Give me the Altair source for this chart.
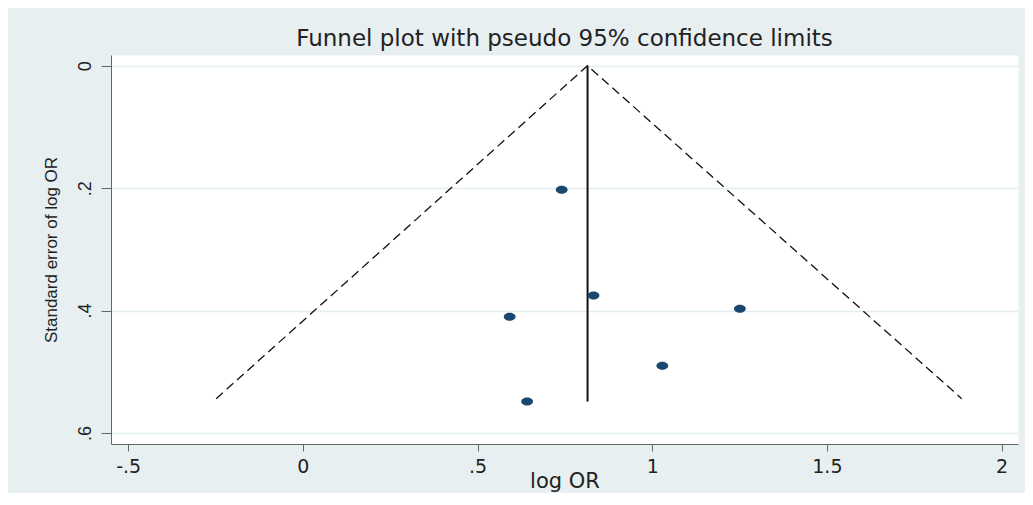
import altair as alt
import pandas as pd

# Study estimates (log OR) and their standard errors
log_or = [0.741, 0.832, 0.592, 1.251, 1.029, 0.642]
se_log_or = [0.2025, 0.3755, 0.410, 0.397, 0.490, 0.5486]

# Pooled estimate line (vertical)
pooled_x = [0.815]
pooled_y_top = [0.0]
pooled_y_bottom = [0.5486]

# Pseudo 95% confidence limits (dashed funnel)
funnel_x = [-0.248, 0.815, 1.886]
funnel_y = [0.544, 0.0, 0.544]
funnel_order = [0, 1, 2]

x_ticks = [-0.5, 0, 0.5, 1, 1.5, 2]
x_tick_labels = ["-.5", "0", ".5", "1", "1.5", "2"]
y_ticks = [0, 0.2, 0.4, 0.6]
y_tick_labels = ["0", ".2", ".4", ".6"]

BG = "#e8eff1"
NAVY = "#1a476f"
FONT_H = "DejaVu Sans"
FONT_V = "Liberation Sans"


def label_expr(values, labels):
    parts = [f"abs(datum.value - ({v})) < 1e-6 ? '{l}'" for v, l in zip(values, labels)]
    return " : ".join(parts) + " : ''"


points_df = pd.DataFrame({"x": log_or, "y": se_log_or})
pooled_df = pd.DataFrame({"x": pooled_x, "y": pooled_y_top, "y2": pooled_y_bottom})
funnel_df = pd.DataFrame({"x": funnel_x, "y": funnel_y, "o": funnel_order})

x_scale = alt.Scale(domain=[-0.549, 2.047], nice=False, zero=False)
y_scale = alt.Scale(domain=[-0.0175, 0.618], nice=False, zero=False, reverse=True)

x_axis = alt.Axis(
    values=x_ticks,
    labelExpr=label_expr(x_ticks, x_tick_labels),
    grid=False,
    tickSize=7,
    tickColor="#666666",
    domainColor="#666666",
    labelFont=FONT_H,
    labelFontSize=19,
    labelColor="#222222",
    labelPadding=6,
    labelBaseline="top",
    title="log OR",
    titleFont=FONT_H,
    titleFontSize=21,
    titleFontWeight="normal",
    titleColor="#222222",
    titleBaseline="alphabetic",
    titleY=43,
)

y_axis = alt.Axis(
    values=y_ticks,
    labelExpr=label_expr(y_ticks, y_tick_labels),
    grid=True,
    gridColor="#e4edef",
    gridWidth=1.5,
    tickSize=10,
    tickColor="#666666",
    domainColor="#666666",
    labelFont=FONT_V,
    labelFontSize=18,
    labelColor="#222222",
    labelAngle=270,
    labelAlign="center",
    labelBaseline="bottom",
    labelPadding=7,
    title="Standard error of log OR",
    titleFont=FONT_V,
    titleFontSize=17,
    titleFontWeight="normal",
    titleColor="#222222",
    titleAngle=270,
    titleAlign="center",
    titleBaseline="middle",
    titleX=-60,
    titleY=194.5,
)

funnel = alt.Chart(funnel_df).mark_line(
    color="#111111", strokeWidth=1.3, strokeDash=[9, 5]
).encode(
    x=alt.X("x:Q", scale=x_scale, axis=x_axis),
    y=alt.Y("y:Q", scale=y_scale, axis=y_axis),
    order="o:Q",
)

pooled = alt.Chart(pooled_df).mark_rule(color="#111111", strokeWidth=2).encode(
    x=alt.X("x:Q", scale=x_scale),
    y=alt.Y("y:Q", scale=y_scale),
    y2="y2:Q",
)

ellipse = "M-1,0A1,0.68,0,1,0,1,0A1,0.68,0,1,0,-1,0Z"
points = alt.Chart(points_df).mark_point(
    shape=ellipse, filled=True, color=NAVY, opacity=1, size=140
).encode(
    x=alt.X("x:Q", scale=x_scale),
    y=alt.Y("y:Q", scale=y_scale),
)

chart = alt.layer(funnel, pooled, points).properties(
    width=907,
    height=389,
    padding={"left": 103, "top": 47, "right": 7, "bottom": 49},
    autosize=alt.AutoSizeParams(type="none"),
    background=BG,
    title=alt.TitleParams(
        text="Funnel plot with pseudo 95% confidence limits",
        font=FONT_H,
        fontSize=23,
        fontWeight="normal",
        color="#222222",
        anchor="middle",
        baseline="bottom",
        offset=4,
        dy=23,
    ),
).configure_view(fill="white", stroke="transparent")

chart.save("out.html", embed_options={"renderer": "svg", "actions": False})
